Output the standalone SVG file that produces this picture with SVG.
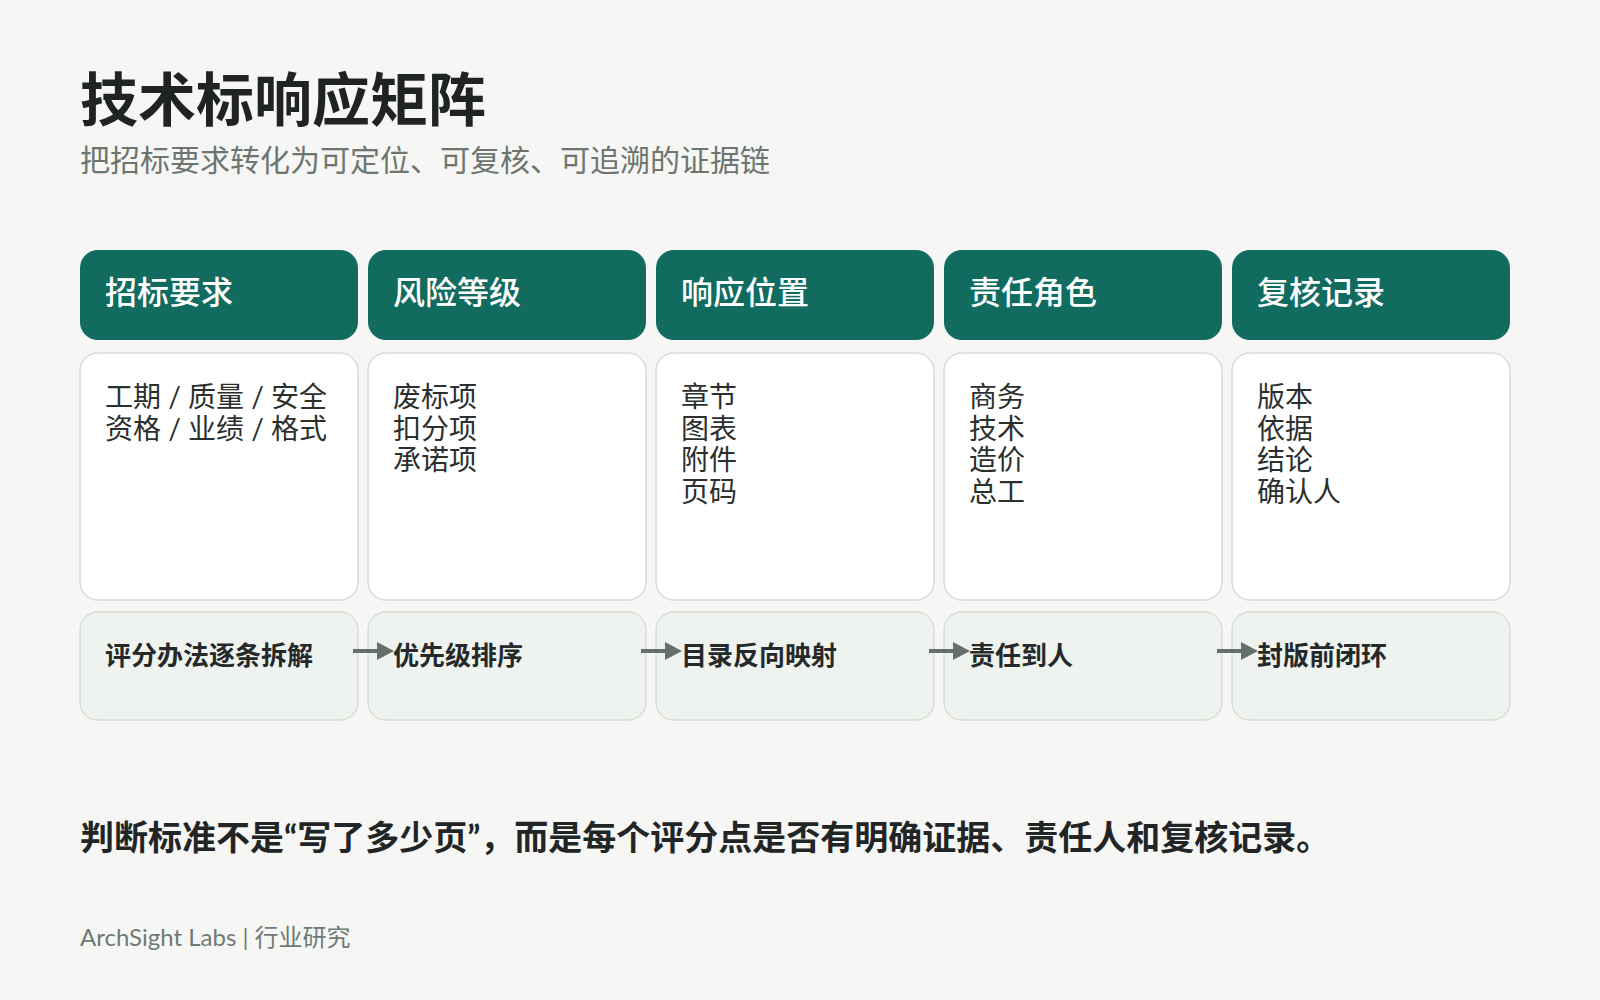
<svg xmlns="http://www.w3.org/2000/svg" width="1600" height="1000" viewBox="0 0 1600 1000">
  <defs>
    <style>
      text { font-family: Lato, "Noto Sans CJK SC", sans-serif; }
      .title { font-size: 58px; font-weight: 700; fill: #1f2322; }
      .subtitle { font-size: 30px; fill: #6d7571; }
      .head { fill: #116b5f; }
      .headtxt { font-size: 32px; font-weight: 500; fill: #ffffff; }
      .body { fill: #ffffff; stroke: #dcdbd3; stroke-width: 1.5; }
      .bodytxt { font-size: 28px; fill: #2b2f2e; }
      .foot { fill: #eef3ef; stroke: #d9ded6; stroke-width: 1.5; }
      .foottxt { font-size: 26px; font-weight: 700; fill: #26292a; }
      .conn { stroke: #66706a; stroke-width: 4; fill: none; marker-end: url(#ah); }
      .note { font-size: 34px; font-weight: 700; fill: #222526; }
      .brand { font-size: 24px; fill: #6f7a74; }
    </style>
    <marker id="ah" markerUnits="userSpaceOnUse" markerWidth="18" markerHeight="18" refX="3" refY="9" orient="auto">
      <path d="M0,0 L17,9 L0,18 Z" fill="#66706a"/>
    </marker>
  </defs>
  <rect width="1600" height="1000" fill="#f6f6f4"/>

  <text class="title" x="80" y="121">技术标响应矩阵</text>
  <text class="subtitle" x="80" y="171">把招标要求转化为可定位、可复核、可追溯的证据链</text>

  <g id="col1">
    <rect class="head" x="80" y="250" width="278" height="90" rx="18"/>
    <text class="headtxt" x="105" y="304">招标要求</text>
    <rect class="body" x="80" y="353" width="278" height="247" rx="18"/>
    <text class="bodytxt" x="105" y="407">工期 / 质量 / 安全</text>
    <text class="bodytxt" x="105" y="439">资格 / 业绩 / 格式</text>
    <rect class="foot" x="80" y="612" width="278" height="108" rx="18"/>
    <text class="foottxt" x="105" y="665">评分办法逐条拆解</text>
  </g>

  <g id="col2">
    <rect class="head" x="368" y="250" width="278" height="90" rx="18"/>
    <text class="headtxt" x="393" y="304">风险等级</text>
    <rect class="body" x="368" y="353" width="278" height="247" rx="18"/>
    <text class="bodytxt" x="393" y="407">废标项</text>
    <text class="bodytxt" x="393" y="439">扣分项</text>
    <text class="bodytxt" x="393" y="470">承诺项</text>
    <rect class="foot" x="368" y="612" width="278" height="108" rx="18"/>
    <text class="foottxt" x="393" y="665">优先级排序</text>
  </g>

  <g id="col3">
    <rect class="head" x="656" y="250" width="278" height="90" rx="18"/>
    <text class="headtxt" x="681" y="304">响应位置</text>
    <rect class="body" x="656" y="353" width="278" height="247" rx="18"/>
    <text class="bodytxt" x="681" y="407">章节</text>
    <text class="bodytxt" x="681" y="439">图表</text>
    <text class="bodytxt" x="681" y="470">附件</text>
    <text class="bodytxt" x="681" y="502">页码</text>
    <rect class="foot" x="656" y="612" width="278" height="108" rx="18"/>
    <text class="foottxt" x="681" y="665">目录反向映射</text>
  </g>

  <g id="col4">
    <rect class="head" x="944" y="250" width="278" height="90" rx="18"/>
    <text class="headtxt" x="969" y="304">责任角色</text>
    <rect class="body" x="944" y="353" width="278" height="247" rx="18"/>
    <text class="bodytxt" x="969" y="407">商务</text>
    <text class="bodytxt" x="969" y="439">技术</text>
    <text class="bodytxt" x="969" y="470">造价</text>
    <text class="bodytxt" x="969" y="502">总工</text>
    <rect class="foot" x="944" y="612" width="278" height="108" rx="18"/>
    <text class="foottxt" x="969" y="665">责任到人</text>
  </g>

  <g id="col5">
    <rect class="head" x="1232" y="250" width="278" height="90" rx="18"/>
    <text class="headtxt" x="1257" y="304">复核记录</text>
    <rect class="body" x="1232" y="353" width="278" height="247" rx="18"/>
    <text class="bodytxt" x="1257" y="407">版本</text>
    <text class="bodytxt" x="1257" y="439">依据</text>
    <text class="bodytxt" x="1257" y="470">结论</text>
    <text class="bodytxt" x="1257" y="502">确认人</text>
    <rect class="foot" x="1232" y="612" width="278" height="108" rx="18"/>
    <text class="foottxt" x="1257" y="665">封版前闭环</text>
  </g>

  <g id="connectors">
    <line class="conn" x1="353" y1="651" x2="380" y2="651"/>
    <line class="conn" x1="641" y1="651" x2="668" y2="651"/>
    <line class="conn" x1="929" y1="651" x2="956" y2="651"/>
    <line class="conn" x1="1217" y1="651" x2="1244" y2="651"/>
  </g>

  <text class="note" x="80" y="850">判断标准不是“写了多少页”，而是每个评分点是否有明确证据、责任人和复核记录。</text>
  <text class="brand" x="80" y="946">ArchSight Labs | 行业研究</text>
</svg>
